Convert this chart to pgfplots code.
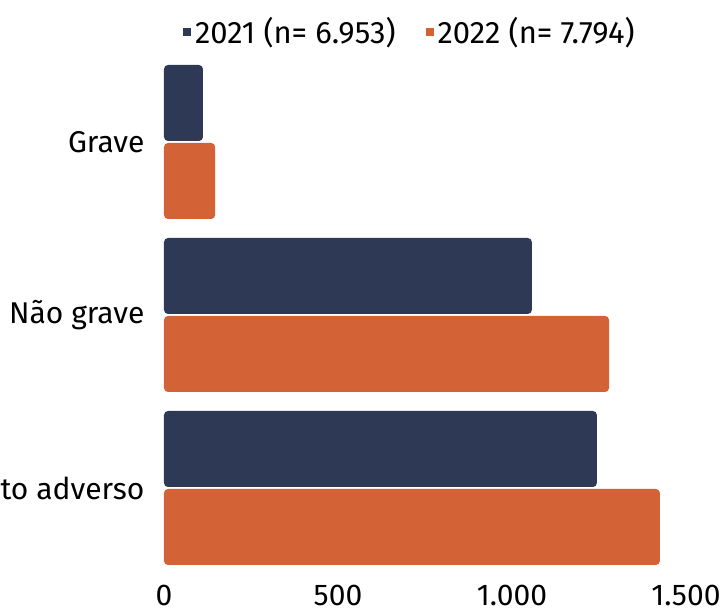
\documentclass[border=0pt]{standalone}
\usepackage{pgfplots}
\pgfplotsset{compat=1.18}
\usepackage{fontspec}
\setmainfont{Fira Sans}
\definecolor{navy}{HTML}{2E3A55}
\definecolor{laranja}{HTML}{D46237}
\begin{document}
\begin{tikzpicture}
\begin{axis}[
  at={(0,0)}, anchor=south west,
  scale only axis, width=261pt, height=259.5pt,
  xbar, bar width=38pt,
  xmin=0, xmax=1500, ymin=-0.5, ymax=2.5,
  xtick={0,500,1000,1500},
  ytick={0,1,2}, yticklabels={Evento adverso, Não grave, Grave},
  axis line style={draw=none}, tick style={draw=none}, major tick length=0pt,
  tick label style={font=\fontsize{15}{18}\selectfont},
  xticklabel style={inner sep=0pt, yshift=-5pt},
  yticklabel style={xshift=-6.3pt},
  /pgf/number format/1000 sep={.},
  /pgf/number format/assume math mode=true,
  legend style={at={(0.473,1.045)}, anchor=center, legend columns=2,
    draw=none, fill=none, font=\fontsize{15.5}{18}\selectfont,
    /tikz/every even column/.append style={column sep=13pt}},
  legend image code/.code={\fill[#1, sharp corners] (0pt,-2pt) rectangle (4pt,2pt);},
]
\addplot[fill=navy, draw=none, rounded corners=2pt, bar shift=19.5pt]
  coordinates {(1244,0) (1057,1) (112,2)};
\addplot[fill=laranja, draw=none, rounded corners=2pt, bar shift=-19.5pt]
  coordinates {(1425,0) (1279,1) (147,2)};
\legend{2021 (n= 6.953), 2022 (n= 7.794)}
\end{axis}
\pgfresetboundingbox
\path[use as bounding box] (-82pt,-17.75pt) rectangle (279.5pt,287.25pt);
\end{tikzpicture}
\end{document}
